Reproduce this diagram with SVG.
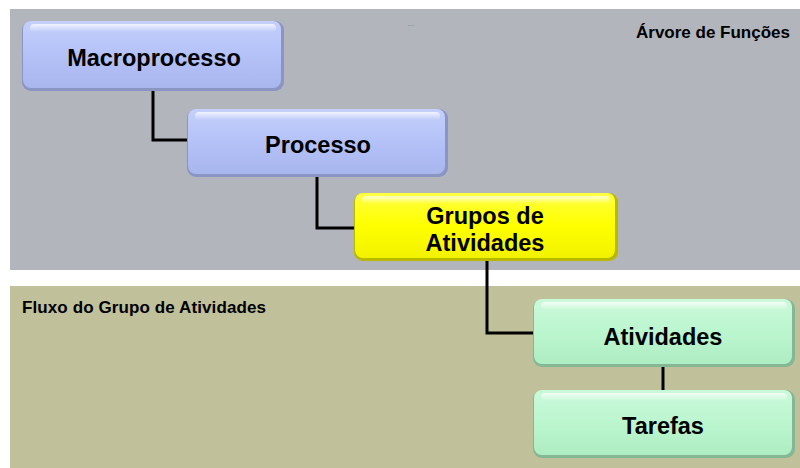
<svg xmlns="http://www.w3.org/2000/svg" width="800" height="468" viewBox="0 0 800 468">
<defs>
<style>
.lbl{font-family:"Liberation Sans",Arial,sans-serif;font-weight:bold;font-size:23.5px;fill:#000;text-anchor:middle}
.ttl{font-family:"Liberation Sans",Arial,sans-serif;font-weight:bold;font-size:17px;fill:#000}
.con{stroke:#000;stroke-width:3;fill:none}
.hl{fill:url(#hi)}
</style>
<linearGradient id="blue" x1="0" y1="0" x2="0" y2="1">
<stop offset="0" stop-color="#c4cffa"/><stop offset="0.5" stop-color="#b4c2f8"/><stop offset="1" stop-color="#a8b6ee"/>
</linearGradient>
<linearGradient id="yel" x1="0" y1="0" x2="0" y2="1">
<stop offset="0" stop-color="#ffff40"/><stop offset="0.5" stop-color="#ffff00"/><stop offset="1" stop-color="#f2f200"/>
</linearGradient>
<linearGradient id="grn" x1="0" y1="0" x2="0" y2="1">
<stop offset="0" stop-color="#cbf9da"/><stop offset="0.5" stop-color="#bbf6cf"/><stop offset="1" stop-color="#aeecc2"/>
</linearGradient>
<linearGradient id="hi" x1="0" y1="0" x2="0" y2="1">
<stop offset="0" stop-color="#fff" stop-opacity="0.75"/><stop offset="1" stop-color="#fff" stop-opacity="0"/>
</linearGradient>
</defs>
<rect width="800" height="468" fill="#fff"/>
<rect x="10" y="9" width="790" height="261" fill="#b3b5bd"/>
<rect x="10" y="286" width="790" height="182" fill="#c0c19b"/>
<text class="ttl" x="790" y="38" text-anchor="end">Árvore de Funções</text>
<text x="411" y="26" font-family="Liberation Sans,sans-serif" font-size="6" fill="#555" text-anchor="middle">....</text>
<text class="ttl" x="22" y="313" textLength="244">Fluxo do Grupo de Atividades</text>
<g id="connectors">
<path class="con" d="M153,91 V140 H187"/>
<path class="con" d="M317,177 V228 H354"/>
<path class="con" d="M487,261 V333 H533"/>
<path class="con" d="M663,367 V390"/>
</g>
<g id="macroprocesso">
<rect x="22" y="21" width="262" height="70" rx="9" fill="#8a95c4"/>
<rect x="23" y="21" width="258" height="67" rx="8" fill="url(#blue)"/>
<rect x="30" y="24" width="246" height="8" rx="4" class="hl"/>
<text class="lbl" x="154" y="66">Macroprocesso</text>
</g>
<g id="processo">
<rect x="187" y="109" width="261" height="68" rx="9" fill="#8a95c4"/>
<rect x="188" y="109" width="257" height="65" rx="8" fill="url(#blue)"/>
<rect x="195" y="112" width="245" height="8" rx="4" class="hl"/>
<text class="lbl" x="318" y="153">Processo</text>
</g>
<g id="grupos">
<rect x="354" y="193" width="264" height="68" rx="9" fill="#b8b800"/>
<rect x="355" y="193" width="260" height="65" rx="8" fill="url(#yel)"/>
<rect x="362" y="196" width="248" height="8" rx="4" class="hl"/>
<text class="lbl" x="485" y="224">Grupos de</text>
<text class="lbl" x="485" y="251">Atividades</text>
</g>
<g id="atividades">
<rect x="533" y="299" width="262" height="68" rx="9" fill="#86b795"/>
<rect x="534" y="299" width="258" height="65" rx="8" fill="url(#grn)"/>
<rect x="541" y="302" width="246" height="8" rx="4" class="hl"/>
<text class="lbl" x="663" y="345">Atividades</text>
</g>
<g id="tarefas">
<rect x="533" y="390" width="262" height="68" rx="9" fill="#86b795"/>
<rect x="534" y="390" width="258" height="65" rx="8" fill="url(#grn)"/>
<rect x="541" y="393" width="246" height="8" rx="4" class="hl"/>
<text class="lbl" x="663" y="434">Tarefas</text>
</g>
</svg>
